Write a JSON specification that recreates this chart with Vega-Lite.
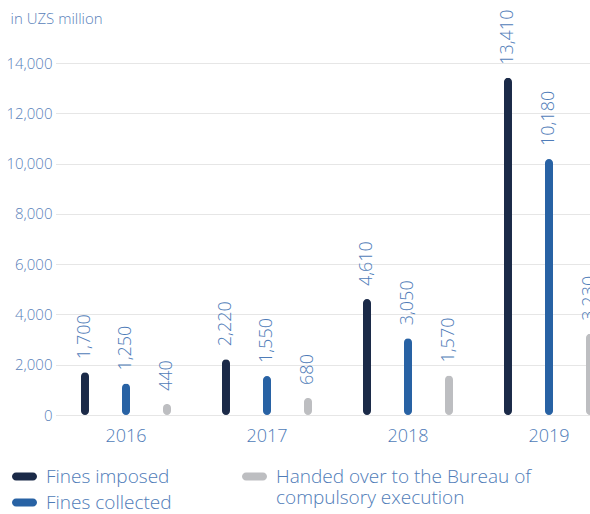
{
  "$schema": "https://vega.github.io/schema/vega-lite/v6.json",
  "width": 532,
  "height": 352,
  "autosize": {"type": "none"},
  "padding": {"left": 58, "top": 63, "right": 0, "bottom": 99},
  "config": {"view": {"stroke": null}, "font": "Open Sans"},
  "data": {
    "values": [
      {"year": "2016", "series": "Fines imposed", "value": 1700},
      {"year": "2016", "series": "Fines collected", "value": 1250},
      {"year": "2016", "series": "Handed over to the Bureau of compulsory execution", "value": 440},
      {"year": "2017", "series": "Fines imposed", "value": 2220},
      {"year": "2017", "series": "Fines collected", "value": 1550},
      {"year": "2017", "series": "Handed over to the Bureau of compulsory execution", "value": 680},
      {"year": "2018", "series": "Fines imposed", "value": 4610},
      {"year": "2018", "series": "Fines collected", "value": 3050},
      {"year": "2018", "series": "Handed over to the Bureau of compulsory execution", "value": 1570},
      {"year": "2019", "series": "Fines imposed", "value": 13410},
      {"year": "2019", "series": "Fines collected", "value": 10180},
      {"year": "2019", "series": "Handed over to the Bureau of compulsory execution", "value": 3230}
    ]
  },
  "encoding": {
    "x": {
      "field": "year", "type": "nominal",
      "scale": {"range": [-2.5, 561.5], "paddingInner": 0, "paddingOuter": 0},
      "axis": {"labelAngle": 0, "domain": false, "ticks": false, "labelFontSize": 18, "labelPadding": 12, "labelColor": "#4f7cb8", "labelFontWeight": 300, "title": null}
    },
    "xOffset": {
      "field": "series", "type": "nominal",
      "sort": ["Fines imposed", "Fines collected", "Handed over to the Bureau of compulsory execution"],
      "scale": {"paddingInner": 0, "paddingOuter": 0.2195}
    },
    "y": {
      "field": "value", "type": "quantitative",
      "scale": {"domain": [0, 14000]},
      "axis": {
        "values": [0, 2000, 4000, 6000, 8000, 10000, 12000, 14000],
        "format": ",.0f",
        "grid": true, "gridColor": "#e6e6e6", "gridWidth": 1,
        "domain": false, "ticks": false, "labelPadding": 6,
        "labelFontSize": 15, "labelColor": "#5a82ba", "labelFontWeight": 300,
        "title": "in UZS million", "titleAngle": 0, "titleX": -48, "titleY": -45,
        "titleAlign": "left", "titleBaseline": "middle", "titleFontSize": 15,
        "titleFontWeight": 300, "titleColor": "#5a82ba"
      }
    }
  },
  "layer": [
    {
      "mark": {"type": "bar", "width": 8, "cornerRadius": 4},
      "encoding": {
        "color": {
          "field": "series", "type": "nominal",
          "scale": {
            "domain": ["Fines imposed", "Fines collected", "Handed over to the Bureau of compulsory execution"],
            "range": ["#1b2a48", "#2862a4", "#bdbec1"]
          },
          "legend": {
            "orient": "none", "legendX": -46, "legendY": 401, "columns": 2,
            "gridAlign": "none",
            "title": null,
            "symbolType": "M-0.68,-0.32 L0.68,-0.32 A0.32,0.32 0 0 1 0.68,0.32 L-0.68,0.32 A0.32,0.32 0 0 1 -0.68,-0.32 Z",
            "symbolSize": 625, "symbolStrokeWidth": 0, "symbolOpacity": 1,
            "labelFontSize": 19, "labelColor": "#4f7cb8", "labelFontWeight": 300,
            "labelOffset": 9, "labelLimit": 400, "rowPadding": -18, "columnPadding": 70,
            "labelExpr": "datum.label == 'Handed over to the Bureau of compulsory execution' ? ['Handed over to the Bureau of', 'compulsory execution'] : datum.label"
          }
        }
      }
    },
    {
      "mark": {"type": "text", "angle": 270, "align": "left", "baseline": "middle", "dx": 13, "fontSize": 18, "fontWeight": 300, "color": "#4f7cb8"},
      "encoding": {
        "text": {"field": "value", "type": "quantitative", "format": ","}
      }
    }
  ]
}
